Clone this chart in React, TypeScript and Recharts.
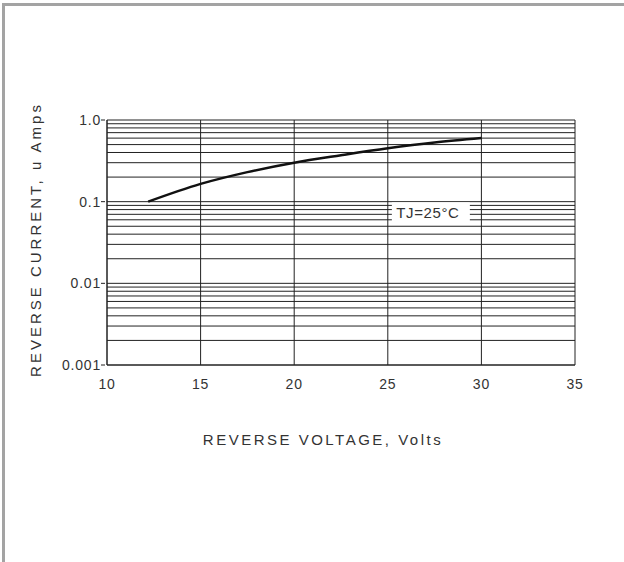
import { CartesianGrid, Line, LineChart, ReferenceDot, XAxis, YAxis } from "recharts";

// reverse voltage (V) vs reverse current (uA)
const voltage = [12.2, 15, 17.5, 20, 22.5, 25, 27.5, 30];
const current = [0.1, 0.165, 0.23, 0.3, 0.37, 0.45, 0.53, 0.6];

const xTicks = [10, 15, 20, 25, 30, 35];
const yTicks = [
  0.001, 0.002, 0.003, 0.004, 0.005, 0.006, 0.007, 0.008, 0.009,
  0.01, 0.02, 0.03, 0.04, 0.05, 0.06, 0.07, 0.08, 0.09,
  0.1, 0.2, 0.3, 0.4, 0.5, 0.6, 0.7, 0.8, 0.9, 1,
];
const yLabels: Record<string, string> = { "0.001": "0.001", "0.01": "0.01", "0.1": "0.1", "1": "1.0" };

const note = { x: 27.3, y: 0.072, text: "TJ=25°C" };

const data = voltage.map((v, i) => ({ v, i: current[i] }));

const FONT = "'Liberation Sans', Arial, sans-serif";
const TEXT = "#333";

function YTick(props: any) {
  const { x, y, payload } = props;
  const label = yLabels[String(payload.value)];
  if (!label) return null;
  return (
    <g>
      <line x1={x + 2} x2={x + 6} y1={y} y2={y} stroke="#222" />
      <text x={x + 2} y={y} dy={5} textAnchor="end" fontSize={14} letterSpacing={0.8} fill={TEXT} fontFamily={FONT}>
        {label}
      </text>
    </g>
  );
}

function NoteShape(props: any) {
  const { cx, cy } = props;
  return (
    <g>
      <rect x={cx - 39} y={cy - 11} width={78} height={21} fill="#fff" />
      <text x={cx - 3} y={cy} dy={5} textAnchor="middle" fontSize={15} letterSpacing={0.6} fill={TEXT} fontFamily={FONT}>
        {note.text}
      </text>
    </g>
  );
}

export default function App() {
  return (
    <div style={{ position: "fixed", left: 0, top: 0, width: 624, height: 562, background: "#fff" }}>
      <div
        style={{
          position: "absolute",
          left: 2,
          top: 3,
          right: 0,
          bottom: 0,
          borderTop: "3px solid #a3a3a3",
          borderLeft: "3px solid #a3a3a3",
        }}
      />
      <LineChart
        width={624}
        height={562}
        data={data}
        margin={{ top: 120, right: 49, bottom: 167, left: 0 }}
        style={{ position: "absolute", left: 0, top: 0 }}
      >
        <CartesianGrid stroke="#222" strokeWidth={1} />
        <XAxis
          dataKey="v"
          type="number"
          domain={[10, 35]}
          ticks={xTicks}
          tickLine={false}
          axisLine={{ stroke: "#222" }}
          height={30}
          tick={{ fontSize: 14, fill: TEXT, fontFamily: FONT, dy: 6, letterSpacing: 0.8 }}
          label={{
            value: "REVERSE VOLTAGE, Volts",
            position: "insideBottom",
            offset: -50,
            dx: -18,
            fontSize: 15,
            fill: TEXT,
            fontFamily: FONT,
            letterSpacing: 2.5,
          }}
        />
        <YAxis
          type="number"
          scale="log"
          domain={[0.001, 1]}
          ticks={yTicks}
          allowDataOverflow
          width={107}
          tickLine={false}
          axisLine={{ stroke: "#222" }}
          tick={<YTick />}
          interval={0}
          label={{
            value: "REVERSE CURRENT, u Amps",
            angle: -90,
            position: "insideLeft",
            offset: 36,
            dy: -3,
            fontSize: 15,
            fill: TEXT,
            fontFamily: FONT,
            letterSpacing: 3,
            style: { textAnchor: "middle" },
          }}
        />
        <ReferenceDot x={note.x} y={note.y} r={0} shape={<NoteShape />} ifOverflow="visible" />
        <Line
          dataKey="i"
          type="monotone"
          stroke="#111"
          strokeWidth={2.5}
          dot={false}
          isAnimationActive={false}
        />
      </LineChart>
    </div>
  );
}
